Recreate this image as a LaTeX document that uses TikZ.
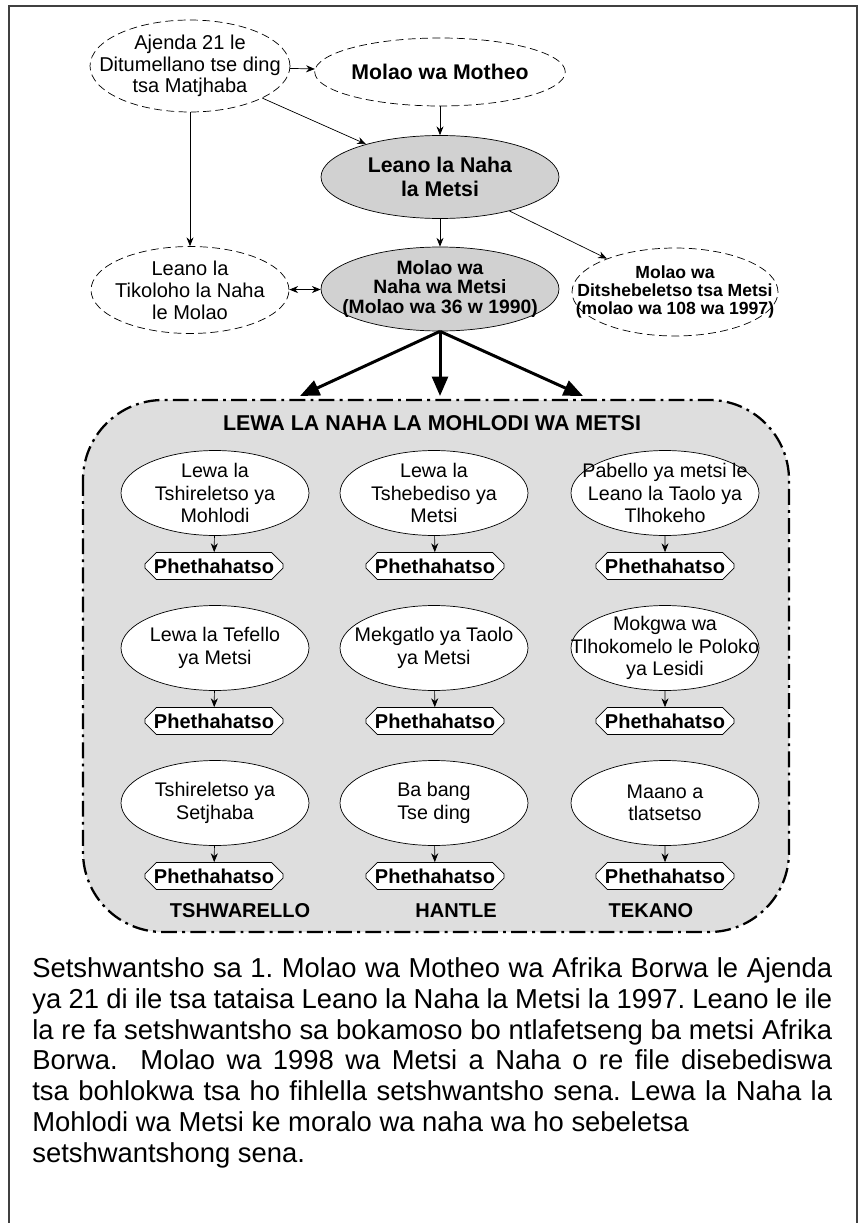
\documentclass[tikz,border=0pt]{standalone}
\usepackage{fontspec}
\setmainfont{Liberation Sans}
\usetikzlibrary{shapes.geometric,shapes.misc,arrows.meta}
\newcommand\fsz[2]{\fontsize{#1pt}{#2pt}\selectfont}
\frenchspacing
\definecolor{panelgrey}{gray}{0.87}
\definecolor{ovalgrey}{gray}{0.82}
\definecolor{framegrey}{gray}{0.25}
\tikzset{
	dashoval/.style={ellipse,draw,dash pattern=on 4.5pt off 2.5pt,fill=white,inner sep=0pt},
	greyoval/.style={ellipse,draw,fill=ovalgrey,inner sep=0pt},
	inoval/.style={ellipse,draw,fill=white,inner sep=0pt,minimum width=3.76cm,minimum height=1.7cm},
	ovaltext/.style={align=center,font=\fsz{11.2}{12.8}},
	outcome/.style={chamfered rectangle,chamfered rectangle xsep=3pt,draw,fill=white,
		inner sep=0pt,minimum width=2.76cm,minimum height=0.46cm,font=\fsz{11.4}{12}\bfseries},
	collabel/.style={font=\fsz{11.4}{12}\bfseries},
	thickarrow/.style={line width=1.7pt,-{Triangle[length=11pt,width=9pt]}}
}
\begin{document}
\begin{tikzpicture}[x=0.02cm,y=-0.02cm,>={Stealth[length=5pt,width=4pt]}]
	\useasboundingbox (0,0) rectangle (863,1223);
	\draw [framegrey,line width=1.2pt] (9,1240) |- (857,6) -- (857,1240);

	% upper part
	\node [dashoval,minimum width=4cm,minimum height=1.84cm,label={[align=center,font=\fsz{11.4}{12.2}]center:Ajenda 21 le\\Ditumellano tse ding\\tsa Matjhaba}] (ajenda) at (190,66) {};
	\node [dashoval,minimum width=4.76cm,minimum height=1.36cm,font=\fsz{12.1}{13}\bfseries] (motheo) at (440,72) {Molao wa Motheo};
	\node [greyoval,minimum width=4.76cm,minimum height=1.66cm,align=center,font=\fsz{12.1}{13.4}\bfseries] (leano) at (440,177) {Leano la Naha\\la Metsi};
	\node [dashoval,minimum width=3.96cm,minimum height=1.74cm,label={[align=center,font=\fsz{11.4}{12.6}]center:Leano la\\Tikoloho la Naha\\le Molao}] (tikoloho) at (190,290) {};
	\node [greyoval,minimum width=4.76cm,minimum height=1.68cm,label={[align=center,font=\fsz{11}{11}\bfseries]center:Molao wa\\Naha wa Metsi\\(Molao wa 36 w 1990)}] (naha) at (440,289) {};
	\node [dashoval,minimum width=4.12cm,minimum height=1.76cm,label={[align=center,font=\fsz{10}{10}\bfseries]center:Molao wa\\Ditshebeletso tsa Metsi\\(molao wa 108 wa 1997)}] (tshebeletso) at (675,292) {};

	\draw [->] (ajenda) -- (motheo);
	\draw [->] (motheo) -- (leano);
	\draw [->] (ajenda) -- (leano);
	\draw [->] (ajenda.south) -- (tikoloho.north);
	\draw [->] (leano) -- (naha);
	\draw [->] (leano) -- (tshebeletso);
	\draw [<->] (tikoloho) -- (naha);

	% board
	\fill [panelgrey,rounded corners=1.6cm] (83,400) rectangle (789,932);
	\draw [line width=1.3pt,dash pattern=on 9pt off 3pt on 1.6pt off 3pt,rounded corners=1.6cm] (83,400) rectangle (789,932);
	\node [font=\fsz{12.2}{13}\bfseries] (board) at (432,423) {LEWA LA NAHA LA MOHLODI WA METSI};

	\coordinate (t1) at (300,396);
	\coordinate (t2) at (440,396);
	\coordinate (t3) at (583,396);
	\foreach \t in {1,2,3}
		\draw [thickarrow] (naha.south) -- (t\t);

	\node [inoval,label={[ovaltext]center:Lewa la\\Tshireletso ya\\Mohlodi}] (e11) at (215,493) {};
	\node [inoval,label={[ovaltext]center:Lewa la\\Tshebediso ya\\Metsi}] (e12) at (434,493) {};
	\node [inoval,label={[ovaltext]center:Pabello ya metsi le\\Leano la Taolo ya\\Tlhokeho}] (e13) at (665,493) {};
	\node [inoval,label={[ovaltext]center:Lewa la Tefello\\ya Metsi}] (e21) at (215,648) {};
	\node [inoval,label={[ovaltext]center:Mekgatlo ya Taolo\\ya Metsi}] (e22) at (434,648) {};
	\node [inoval,label={[ovaltext]center:Mokgwa wa\\Tlhokomelo le Poloko\\ya Lesidi}] (e23) at (665,648) {};
	\node [inoval,label={[ovaltext]center:Tshireletso ya\\Setjhaba}] (e31) at (215,803) {};
	\node [inoval,label={[ovaltext]center:Ba bang\\Tse ding}] (e32) at (434,803) {};
	\node [inoval,label={[ovaltext]center:Maano a\\tlatsetso}] (e33) at (665,803) {};

	\foreach \r/\y in {1/566,2/721,3/876} {
		\node [outcome] (p\r1) at (214,\y) {Phethahatso};
		\node [outcome] (p\r2) at (435,\y) {Phethahatso};
		\node [outcome] (p\r3) at (665,\y) {Phethahatso};
	}
	\foreach \r in {1,2,3}
		\foreach \c in {1,2,3}
			\draw [->] (e\r\c) -- (p\r\c);

	\node [collabel] (tshwarello) at (240,911) {TSHWARELLO};
	\node [collabel] (hantle) at (456,911) {HANTLE};
	\node [collabel] (tekano) at (651,911) {TEKANO};

	% caption
	\node [anchor=north west,inner sep=0pt,text width=16cm,align=justify,font=\fsz{15.6}{17.6}\frenchspacing] (caption) at (32,957)
		{Setshwantsho sa 1. Molao wa Motheo wa Afrika Borwa le Ajenda\linebreak
		ya 21 di ile tsa tataisa Leano la Naha la Metsi la 1997. Leano le ile\linebreak
		la re fa setshwantsho sa bokamoso bo ntlafetseng ba metsi Afrika\linebreak
		Borwa.\ \ Molao wa 1998 wa Metsi a Naha o re file disebediswa\linebreak
		tsa bohlokwa tsa ho fihlella setshwantsho sena. Lewa la Naha la\linebreak
		Mohlodi wa Metsi ke moralo wa naha wa ho sebeletsa\\
		setshwantshong sena.};
\end{tikzpicture}
\end{document}
